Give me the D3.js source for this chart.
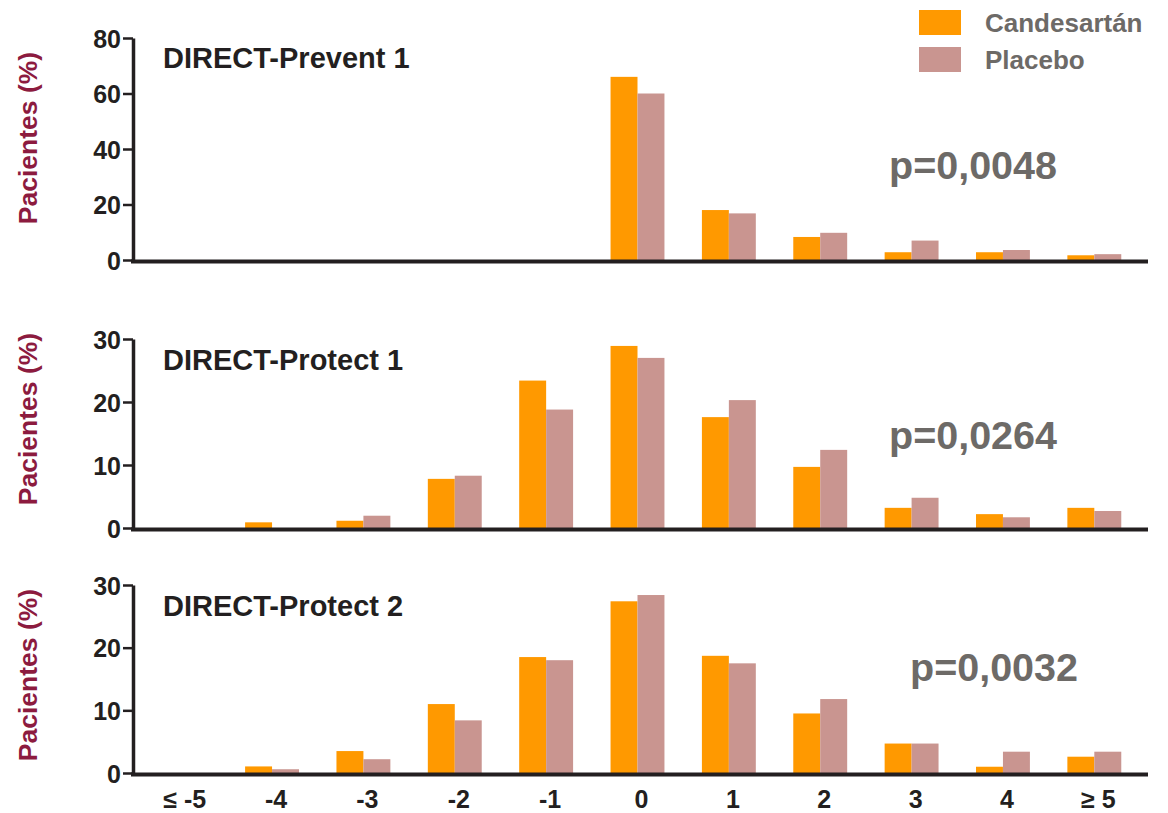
<!DOCTYPE html>
<meta charset="utf-8" />
<script src="https://d3js.org/d3.v7.min.js"></script>
<style>
  body { margin: 0; background: #fff; }
  svg text { font-family: "Liberation Sans", Arial, sans-serif; font-weight: bold; }
</style>
<body>
  <div id="chart"></div>
  <script>
    // categories and series
    const categories = ["≤ -5", "-4", "-3", "-2", "-1", "0", "1", "2", "3", "4", "≥ 5"];
    const series = ["Candesartán", "Placebo"];

    // values (% of patients)
    const prevent1Candesartan = [0, 0, 0, 0, 0, 66, 18, 8.3, 2.8, 2.8, 1.7];
    const prevent1Placebo = [0, 0, 0, 0, 0, 60, 16.8, 9.8, 7, 3.6, 2.1];
    const protect1Candesartan = [0, 0.9, 1.15, 7.8, 23.4, 28.9, 17.6, 9.7, 3.2, 2.2, 3.2];
    const protect1Placebo = [0, 0, 1.95, 8.3, 18.8, 27, 20.3, 12.4, 4.8, 1.7, 2.7];
    const protect2Candesartan = [0, 1.05, 3.5, 11, 18.5, 27.4, 18.7, 9.5, 4.7, 1, 2.6];
    const protect2Placebo = [0, 0.6, 2.2, 8.4, 18, 28.4, 17.5, 11.8, 4.7, 3.4, 3.4];

    const panelTitles = ["DIRECT-Prevent 1", "DIRECT-Protect 1", "DIRECT-Protect 2"];
    const pValues = ["p=0,0048", "p=0,0264", "p=0,0032"];
    const yTicks = [[0, 20, 40, 60, 80], [0, 10, 20, 30], [0, 10, 20, 30]];
    const yLabel = "Pacientes (%)";

    const colors = ["#ff9900", "#c99590"];
    const width = 1168, height = 813;

    const svg = d3.select("#chart").append("svg")
      .attr("width", width)
      .attr("height", height);

    const panels = [
      { cand: prevent1Candesartan, plac: prevent1Placebo, top: 38, bottom: 260, titleY: 68, pX: 889, pY: 179, labelY: 138 },
      { cand: protect1Candesartan, plac: protect1Placebo, top: 339, bottom: 528, titleY: 370, pX: 889, pY: 449, labelY: 419 },
      { cand: protect2Candesartan, plac: protect2Placebo, top: 585, bottom: 773, titleY: 616, pX: 910, pY: 681, labelY: 675 }
    ];

    const axisX = 133, axisEnd = 1148;

    const x0 = d3.scaleBand()
      .domain(categories)
      .range([135, 1140])
      .paddingInner(0.41)
      .paddingOuter(0.205);
    const x1 = d3.scaleBand()
      .domain(series)
      .range([0, x0.bandwidth()]);

    panels.forEach(function (p, i) {
      const ticks = yTicks[i];
      const y = d3.scaleLinear()
        .domain([0, d3.max(ticks)])
        .range([p.bottom, p.top]);

      const g = svg.append("g");

      // bars
      const rows = categories.map(function (c, k) {
        return { cat: c, values: [p.cand[k], p.plac[k]] };
      });
      g.selectAll("g.grp")
        .data(rows)
        .enter()
        .append("g")
        .attr("transform", d => "translate(" + x0(d.cat) + ",0)")
        .selectAll("rect")
        .data(d => d.values.map((v, j) => ({ s: series[j], v: v, j: j })))
        .enter()
        .append("rect")
        .attr("x", d => x1(d.s))
        .attr("y", d => y(d.v))
        .attr("width", x1.bandwidth())
        .attr("height", d => p.bottom - y(d.v))
        .attr("fill", d => colors[d.j]);

      // y axis
      const yAxis = g.append("g")
        .attr("transform", "translate(" + axisX + ",0)")
        .call(d3.axisLeft(y).tickValues(ticks).tickSize(10).tickPadding(2).tickSizeOuter(0));
      yAxis.select(".domain").attr("stroke", "#231f20").attr("stroke-width", 3.5);
      yAxis.selectAll(".tick line").attr("stroke", "#231f20").attr("stroke-width", 2.5);
      yAxis.selectAll(".tick text")
        .attr("fill", "#231f20")
        .style("font-size", "25px")
        .attr("dy", "0.36em");

      // x baseline
      g.append("line")
        .attr("x1", axisX - 2)
        .attr("x2", axisEnd)
        .attr("y1", p.bottom + 1.5)
        .attr("y2", p.bottom + 1.5)
        .attr("stroke", "#231f20")
        .attr("stroke-width", 4);

      // panel title
      g.append("text")
        .attr("x", 163)
        .attr("y", p.titleY)
        .attr("fill", "#231f20")
        .style("font-size", "29px")
        .text(panelTitles[i]);

      // p value
      g.append("text")
        .attr("x", p.pX)
        .attr("y", p.pY)
        .attr("fill", "#6d6a67")
        .style("font-size", "39.5px")
        .text(pValues[i]);

      // y label
      g.append("text")
        .attr("transform", "translate(37," + p.labelY + ") rotate(-90)")
        .attr("text-anchor", "middle")
        .attr("fill", "#8c1b3f")
        .style("font-size", "26.5px")
        .text(yLabel);
    });

    // x axis labels under bottom panel
    const xAxis = svg.append("g")
      .attr("transform", "translate(0,790)")
      .call(d3.axisBottom(x0).tickSize(0).tickPadding(0));
    xAxis.select(".domain").remove();
    xAxis.selectAll(".tick text")
      .attr("fill", "#231f20")
      .attr("dx", 4)
      .attr("dy", "0.71em")
      .style("font-size", "25px");

    // legend
    const legend = svg.append("g");
    series.forEach(function (s, j) {
      legend.append("rect")
        .attr("x", 919)
        .attr("y", 10 + j * 37)
        .attr("width", 42)
        .attr("height", 25)
        .attr("fill", colors[j]);
      legend.append("text")
        .attr("x", 985)
        .attr("y", 32 + j * 37)
        .attr("fill", "#6d6a67")
        .style("font-size", "26px")
        .text(s);
    });
  </script>
</body>
